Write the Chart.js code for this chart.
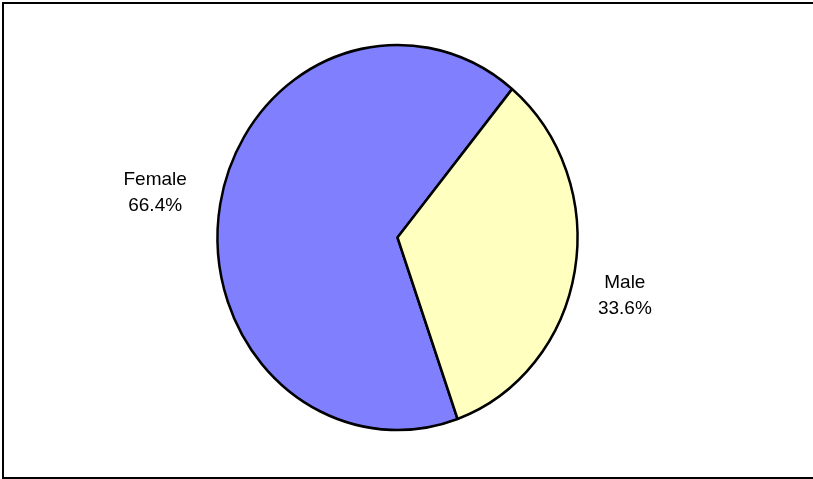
<!DOCTYPE html>
<html>
<head>
<meta charset="utf-8">
<title>Gender split</title>
<script src="https://cdn.jsdelivr.net/npm/chart.js@4.4.1/dist/chart.umd.min.js"></script>
<style>
    html, body { margin: 0; padding: 0; background: #ffffff; }
    #wrap { width: 813px; height: 479px; }
</style>
</head>
<body>
<div id="wrap"><canvas id="genderChart" width="813" height="479"></canvas></div>
<script>
// Chart data
const categories = ['Female', 'Male'];
const shares = [66.4, 33.6];
const sliceColors = ['#8080FF', '#FFFFC0'];

// The original pie is a little taller than it is wide
const STRETCH_Y = 192.5 / 180;

// Squash/stretch the pie vertically around its centre
const ellipsePlugin = {
    id: 'ellipse',
    beforeDatasetsDraw(chart) {
        const arc = chart.getDatasetMeta(0).data[0];
        const ctx = chart.ctx;
        ctx.save();
        ctx.translate(0, arc.y);
        ctx.scale(1, STRETCH_Y);
        ctx.translate(0, -arc.y);
    },
    afterDatasetsDraw(chart) {
        chart.ctx.restore();
    }
};

// Background and the frame round the chart (right edge is cut off)
const framePlugin = {
    id: 'frame',
    beforeDraw(chart) {
        const ctx = chart.ctx;
        ctx.save();
        ctx.fillStyle = '#ffffff';
        ctx.fillRect(0, 0, chart.width, chart.height);
        ctx.strokeStyle = '#000000';
        ctx.lineWidth = 2;
        ctx.beginPath();
        ctx.moveTo(chart.width + 5, 3);
        ctx.lineTo(3, 3);
        ctx.lineTo(3, chart.height - 1);
        ctx.lineTo(chart.width + 5, chart.height - 1);
        ctx.stroke();
        ctx.restore();
    }
};

// Category name + percentage outside each slice
const labelPlugin = {
    id: 'sliceLabels',
    afterDatasetsDraw(chart) {
        const ctx = chart.ctx;
        const meta = chart.getDatasetMeta(0);
        ctx.save();
        ctx.font = '19px "Liberation Sans", Arial, sans-serif';
        ctx.fillStyle = '#000000';
        ctx.textAlign = 'center';
        ctx.textBaseline = 'middle';
        meta.data.forEach((arc, i) => {
            const mid = (arc.startAngle + arc.endAngle) / 2;
            const r = arc.outerRadius + 60;
            const x = arc.x + Math.cos(mid) * r;
            const y = arc.y + Math.sin(mid) * r * STRETCH_Y;
            const side = Math.cos(mid) < 0 ? -1 : 1;
            const lx = x + (side < 0 ? -6 : -9);
            const ly = y + (Math.sin(mid) > 0 ? 14 : 0);
            ctx.fillText(categories[i], lx, ly - 13);
            ctx.fillText(shares[i].toFixed(1) + '%', lx, ly + 13);
        });
        ctx.restore();
    }
};

document.addEventListener('DOMContentLoaded', () => {
    const ctx = document.getElementById('genderChart');

    new Chart(ctx.getContext('2d'), {
        type: 'pie',
        data: {
            labels: categories,
            datasets: [{
                data: shares,
                backgroundColor: sliceColors,
                borderColor: '#000000',
                borderWidth: 2.5
            }]
        },
        options: {
            responsive: false,
            animation: false,
            events: [],
            radius: 180,
            rotation: 160.5,
            layout: {
                padding: { left: 0, right: 18, top: 0, bottom: 4 }
            },
            plugins: {
                legend: { display: false },
                tooltip: { enabled: false }
            }
        },
        plugins: [framePlugin, ellipsePlugin, labelPlugin]
    });
});
</script>
</body>
</html>
